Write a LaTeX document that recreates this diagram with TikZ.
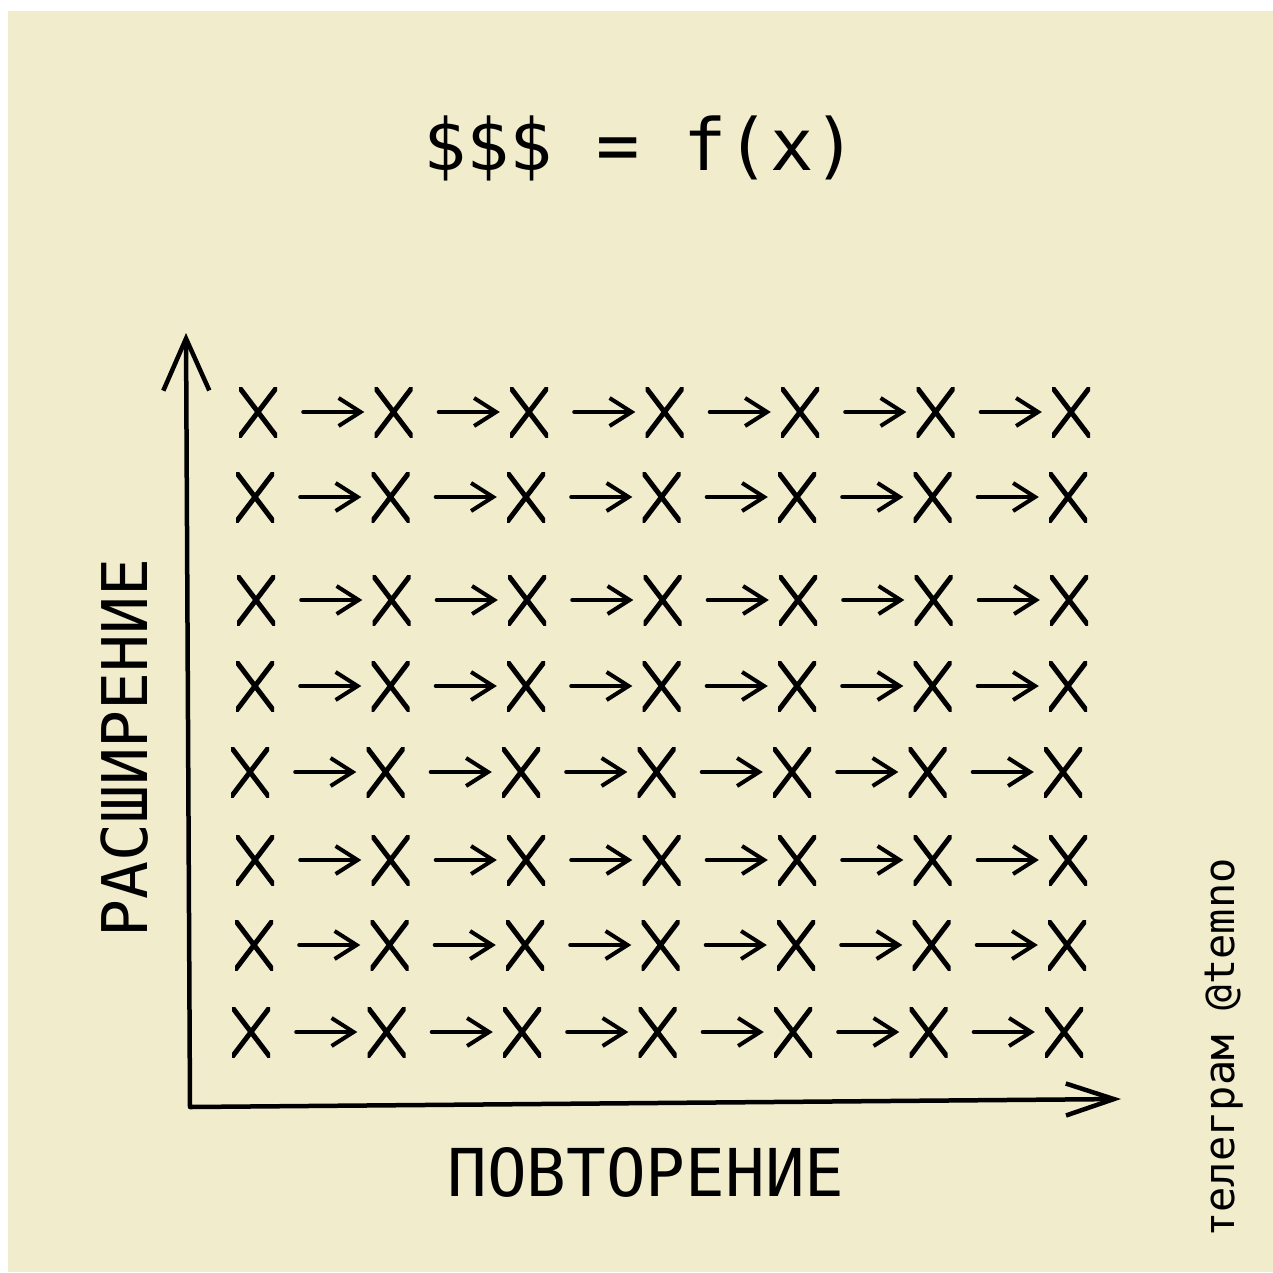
\documentclass[tikz,border=0pt]{standalone}
\usepackage{fontspec}
\setmainfont{DejaVu Sans Mono}
\usetikzlibrary{arrows.meta}
\definecolor{cream}{HTML}{F1ECCB}
\begin{document}
\begin{tikzpicture}[x=1pt,y=-1pt,
  ink/.style={draw=black,line cap=round,line join=round},
  xm/.style={minimum width=38pt,minimum height=50pt,inner sep=0pt,
    path picture={\draw[line width=5pt,line cap=round]
      (path picture bounding box.north west) -- (path picture bounding box.south east)
      (path picture bounding box.north east) -- (path picture bounding box.south west);}},
  arr/.style={ink,line width=4pt,-{Straight Barb[length=22pt,width=28pt]},
    shorten <=26pt,shorten >=10pt},
  axis/.style={ink,line width=4.5pt,
    {Straight Barb[length=52pt,width=46pt]}-{Straight Barb[length=48pt,width=32pt]}},
  lbl/.style={inner sep=0pt,text=black}]
\useasboundingbox (0,0) rectangle (1273,1272);
\fill[white] (0,0) rectangle (1273,1272);
\fill[cream] (8,11) rectangle (1273,1272);

% title
\node[lbl,font=\fontsize{72}{72}\selectfont] (title) at (640,148) {\$\$\$ = f(x)};

% axes
\coordinate (ytop) at (186,333);
\coordinate (origin) at (190,1107);
\coordinate (xend) at (1121,1099);
\draw[axis] (ytop) -- (origin) -- (xend);

% axis labels
\node[lbl,font=\fontsize{66}{66}\selectfont] (xlabel) at (646,1172) {ПОВТОРЕНИЕ};
\node[lbl,font=\fontsize{63}{63}\selectfont,rotate=90] (ylabel) at (125,748) {РАСШИРЕНИЕ};
\node[lbl,font=\fontsize{42}{42}\selectfont,rotate=90] (credit) at (1224,1048) {телеграм @temno};

% grid of X's and arrows
\foreach \r/\y/\dx in {1/412/3,2/497/0,3/600/1,4/686/0,5/772/-5,6/860/0,7/945/-1,8/1032/-4} {
  \foreach \c in {1,...,7} {
    \node[xm] (x-\r-\c) at ({255+\dx+(\c-1)*135.5},\y) {};
  }
  \foreach \c [count=\n from 2] in {1,...,6} {
    \draw[arr] (x-\r-\c) -- (x-\r-\n);
  }
}
\end{tikzpicture}
\end{document}
